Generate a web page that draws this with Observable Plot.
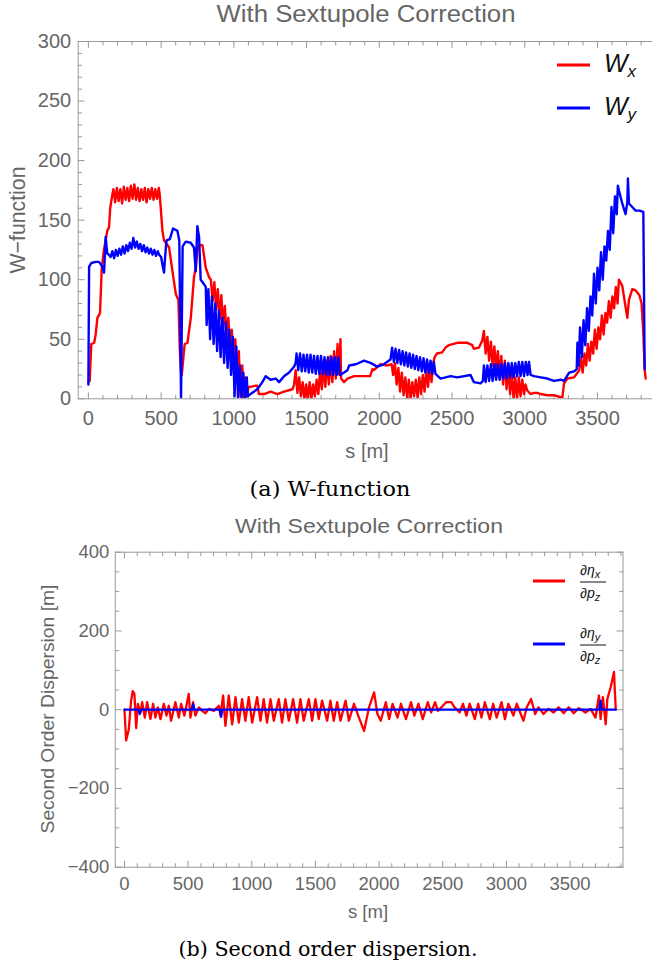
<!DOCTYPE html>
<html><head><meta charset="utf-8">
<script src="https://cdn.jsdelivr.net/npm/d3@7"></script>
<script src="https://cdn.jsdelivr.net/npm/@observablehq/plot@0.6"></script>
<style>
body{margin:0;background:#fff;}
#wrap{position:relative;width:652px;height:971px;overflow:hidden;background:#fff;}
#c1{position:absolute;left:0;top:0;}
#c2{position:absolute;left:0;top:500px;}
#ov{position:absolute;left:0;top:0;}
#ov text{font-family:"Liberation Sans",Arial,sans-serif;}
</style></head><body>
<div id="wrap"><div id="c1"></div><div id="c2"></div>
<svg id="ov" width="652" height="971">
  <text x="366" y="22" text-anchor="middle" fill="#666" font-size="23" textLength="299" lengthAdjust="spacingAndGlyphs">With Sextupole Correction</text>
  <text transform="translate(25,220) rotate(-90)" text-anchor="middle" fill="#666" font-size="22" textLength="107" lengthAdjust="spacingAndGlyphs">W−function</text>
  <text x="367" y="458" text-anchor="middle" fill="#666" font-size="20">s [m]</text>
  <text x="330" y="496" text-anchor="middle" fill="#000" font-size="21" style="font-family:'DejaVu Serif',serif" textLength="161" lengthAdjust="spacingAndGlyphs">(a) W-function</text>
  <line x1="557" x2="590" y1="65" y2="65" stroke="#ff0000" stroke-width="3"/>
  <text x="604" y="72" font-size="25" font-style="italic" fill="#111">W<tspan font-size="17" dy="5">x</tspan></text>
  <line x1="557" x2="590" y1="108" y2="108" stroke="#0000ff" stroke-width="3"/>
  <text x="604" y="115" font-size="25" font-style="italic" fill="#111">W<tspan font-size="17" dy="5">y</tspan></text>

  <text x="369" y="533" text-anchor="middle" fill="#666" font-size="21" textLength="268" lengthAdjust="spacingAndGlyphs">With Sextupole Correction</text>
  <text transform="translate(54,709) rotate(-90)" text-anchor="middle" fill="#666" font-size="19" textLength="249" lengthAdjust="spacingAndGlyphs">Second Order Dispersion [m]</text>
  <text x="368" y="918" text-anchor="middle" fill="#666" font-size="18.5">s [m]</text>
  <text x="328" y="956" text-anchor="middle" fill="#000" font-size="21" style="font-family:'DejaVu Serif',serif" textLength="299" lengthAdjust="spacingAndGlyphs">(b) Second order dispersion.</text>
  <line x1="533" x2="565" y1="581" y2="581" stroke="#ff0000" stroke-width="3"/>
  <text x="580" y="575" font-size="14" fill="#111">∂<tspan font-style="italic">η</tspan><tspan font-size="11" dy="3" font-style="italic">x</tspan></text>
  <line x1="580" x2="606" y1="582" y2="582" stroke="#111" stroke-width="1"/>
  <text x="580" y="598" font-size="14" fill="#111">∂<tspan font-style="italic">p</tspan><tspan font-size="11" dy="3" font-style="italic">z</tspan></text>
  <line x1="533" x2="565" y1="644" y2="644" stroke="#0000ff" stroke-width="3"/>
  <text x="580" y="638" font-size="14" fill="#111">∂<tspan font-style="italic">η</tspan><tspan font-size="11" dy="3" font-style="italic">y</tspan></text>
  <line x1="580" x2="606" y1="645" y2="645" stroke="#111" stroke-width="1"/>
  <text x="580" y="661" font-size="14" fill="#111">∂<tspan font-style="italic">p</tspan><tspan font-size="11" dy="3" font-style="italic">z</tspan></text>
</svg></div>
<script>
// ---------- data: W-function (s [m], W) ----------
const wx = [[0,14],[9,15],[20,46],[40,47],[50,54],[62,68],[80,72],[92,110],[108,126],[130,141],[142,144],[150,160],[160,168],
[172,176],[184,165],[196,177],[208,166],[220,176],[232,164],[244,178],[256,167],[268,177],[280,166],[292,179],[304,168],[316,180],[328,167],[340,177],[352,166],[364,176],[376,167],[388,177],[400,165],[412,176],[424,168],[436,177],[448,167],[460,176],[472,168],[484,177],
[490,172],[497,161],[509,141],[520,133],[532,131],[555,127],[578,107],[601,88],[619,83],[628,43],[636,24],[642,20],[651,32],[662,46],[681,47],[704,68],[726,102],[738,110],[750,125],[761,129],[784,129],[795,120],[807,110],[830,102],
[842,100],[854,82],[866,98],[878,75],[890,92],[902,66],[914,87],[926,60],[938,78],[950,52],[962,68],[974,42],[986,58],[998,30],[1010,50],[1022,15],[1034,40],[1046,2],[1058,28],[1070,1],[1080,18],[1092,2],[1100,10],[1115,10],[1150,11],[1161,11],[1172,4],[1207,4],[1253,6],[1299,4],[1345,6],[1403,8],[1414,12],
[1425,24],[1437,5],[1449,18],[1461,2],[1473,14],[1485,0],[1497,12],[1509,0],[1521,14],[1533,0],[1545,12],[1557,2],[1569,16],[1581,4],[1593,24],[1605,8],[1617,28],[1629,10],[1641,32],[1653,12],[1665,36],[1677,14],[1689,40],[1701,17],[1713,46],[1725,20],[1733,50],[1737,17],[1758,14],[1781,17],[1827,19],[1896,19],[1937,19],[1953,25],[1962,24],[2008,29],[2054,28],[2085,29],
[2095,20],[2107,30],[2119,12],[2131,26],[2143,6],[2155,22],[2167,3],[2179,18],[2191,1],[2203,16],[2215,0],[2227,14],[2239,2],[2251,16],[2263,1],[2275,18],[2287,4],[2299,20],[2311,6],[2323,24],[2335,10],[2347,28],[2359,14],[2371,30],[2380,35],[2397,38],[2432,39],[2455,43],[2478,45],[2536,47],[2605,47],[2639,45],[2650,42],[2685,43],[2708,49],
[2719,57],[2731,38],[2743,52],[2755,32],[2767,48],[2779,28],[2791,44],[2803,24],[2815,40],[2827,18],[2839,36],[2851,12],[2863,32],[2875,8],[2887,28],[2899,4],[2911,22],[2923,0],[2935,18],[2947,0],[2959,18],[2971,2],[2983,16],[2995,4],[3005,12],[3017,7],[3040,4],[3063,5],[3086,5],[3109,4],[3155,3],[3201,3],[3258,1],[3270,13],[3293,17],[3339,18],[3374,24],
[3386,34],[3398,22],[3410,38],[3422,28],[3434,46],[3446,32],[3458,48],[3470,38],[3482,58],[3494,42],[3506,60],[3518,50],[3530,70],[3542,54],[3554,72],[3566,64],[3578,82],[3590,68],[3602,86],[3614,76],[3626,94],[3638,80],[3647,100],[3670,95],[3693,77],[3705,68],[3716,83],[3739,92],[3762,91],[3788,87],[3803,80],[3815,55],[3824,25],[3831,17]];

const wy = [[0,12],[5,111],[20,114],[50,115],[73,115],[96,111],[108,106],[119,136],[125,128],[130,122],[141,121],
[153,119],[165,124],[177,118],[189,125],[201,120],[213,126],[225,121],[237,128],[249,122],[261,129],[273,124],[285,131],[297,126],[309,135],[321,127],[333,132],[345,126],[357,130],[369,124],[381,129],[393,123],[405,127],[417,122],[429,126],[441,121],[453,125],[465,120],[477,124],[486,121],
[500,119],[510,112],[520,106],[528,120],[537,133],[560,134],[582,143],[612,141],[625,133],[637,0],[648,128],[669,132],[703,131],[726,127],[738,107],[749,145],[761,136],[772,100],[784,98],[807,94],
[813,62],[825,92],[837,50],[849,86],[861,46],[873,80],[885,40],[897,74],[909,35],[921,68],[933,30],[945,64],[957,26],[969,58],[981,20],[993,52],[1005,2],[1017,44],[1029,0],[1041,28],[1053,0],[1065,22],[1077,0],[1089,18],[1095,2],[1115,4],[1161,8],[1196,14],[1219,19],[1253,16],[1288,17],[1311,14],[1345,19],[1380,22],[1414,27],[1425,30],
[1431,38],[1443,24],[1455,38],[1467,23],[1479,37],[1491,23],[1503,37],[1515,22],[1527,37],[1539,22],[1551,36],[1563,21],[1575,36],[1587,21],[1599,36],[1611,21],[1623,35],[1635,20],[1647,35],[1659,20],[1671,35],[1683,20],[1695,35],[1707,20],[1719,35],[1731,20],[1758,22],[1781,24],[1793,28],[1839,29],[1896,32],[1942,30],[1985,27],[2031,29],[2077,33],
[2088,43],[2100,31],[2112,42],[2124,30],[2136,41],[2148,29],[2160,40],[2172,28],[2184,39],[2196,27],[2208,38],[2220,26],[2232,37],[2244,25],[2256,36],[2268,24],[2280,35],[2292,23],[2304,34],[2316,22],[2328,33],[2340,22],[2352,32],[2364,21],[2375,31],[2386,21],[2421,17],[2490,19],[2536,18],[2627,20],[2650,14],[2696,13],[2712,15],
[2719,28],[2731,14],[2743,28],[2755,15],[2767,29],[2779,15],[2791,29],[2803,16],[2815,29],[2827,16],[2839,29],[2851,17],[2863,30],[2875,17],[2887,30],[2899,18],[2911,30],[2923,18],[2935,30],[2947,19],[2959,31],[2971,19],[2983,31],[2995,19],[3007,31],[3019,20],[3029,31],[3040,20],[3063,19],[3109,18],[3155,17],[3201,15],[3247,16],[3270,15],[3305,22],[3339,23],[3357,25],[3362,47],[3370,28],
[3380,60],[3392,35],[3404,66],[3416,45],[3428,76],[3440,57],[3452,86],[3464,70],[3476,105],[3488,80],[3500,110],[3512,91],[3524,123],[3536,100],[3548,128],[3560,116],[3572,141],[3584,125],[3596,161],[3608,139],[3620,170],[3632,155],[3640,179],[3647,175],[3670,164],[3693,155],[3705,165],[3709,185],[3716,164],[3739,161],[3762,158],[3788,158],[3815,157],[3824,25]];

// ---------- data: second order dispersion (s [m], value [m]) ----------
const d2x = [[0,0],[13,-78],[34,-50],[52,23],[65,47],[78,40],[92,-47],[105,15],[126,-7],[139,19],[160,-20],[178,19],[204,-24],[225,15],[243,-20],[262,6],[283,-24],[309,15],[330,-15],[348,10],[366,-28],[400,19],[427,-20],[445,15],[471,-15],[505,40],[518,-20],[539,19],[557,-15],[584,6],[610,-3],[636,-9],[662,2],[702,-3],[741,10],[754,-15],
[775,36],[793,-41],[819,36],[846,-37],[872,32],[898,-33],[924,27],[950,-28],[976,32],[1003,-33],[1042,32],[1068,-28],[1094,27],[1120,-33],[1147,27],[1173,-28],[1212,27],[1238,-33],[1264,27],[1291,-28],[1325,27],[1356,-33],[1382,27],[1408,-28],[1448,27],[1474,-28],[1500,27],[1526,-24],[1552,23],[1592,-28],[1618,23],[1644,-28],[1671,19],[1697,-28],[1737,23],[1763,-28],[1803,15],[1842,-20],[1882,-54],[1921,6],[1961,44],[1987,-11],[2013,-28],
[2053,19],[2079,-24],[2106,15],[2145,-20],[2172,15],[2211,-24],[2251,19],[2277,-15],[2309,15],[2343,-24],[2382,19],[2409,-7],[2440,19],[2462,-3],[2501,10],[2527,19],[2567,19],[2593,6],[2633,-7],[2659,15],[2686,-15],[2712,15],[2752,-24],[2778,15],[2804,-20],[2831,19],[2870,-24],[2896,15],[2923,-20],[2962,19],[2989,-24],[3015,15],[3055,-15],[3081,15],[3134,-28],[3160,6],[3194,27],[3226,-11],[3252,6],[3292,-11],[3331,2],[3371,-7],[3410,6],[3450,-9],[3490,6],[3529,-9],[3569,4],[3621,-7],[3661,2],[3700,-20],[3727,36],[3740,-24],[3758,32],[3780,-37],[3793,27],[3819,57],[3845,96],[3859,0]];

const d2y = [[0,0],[110,0],[120,-11],[130,0],[530,0],[539,14],[548,0],[750,0],[759,-18],[768,0],[3730,0],[3740,23],[3750,0],[3859,0]];

// ---------- ticks ----------
const xTicks = [0,500,1000,1500,2000,2500,3000,3500];
const wTicks = [0,50,100,150,200,250,300];
const dTicks = [-400,-200,0,200,400];

const fmt = d => d < 0 ? "\u2212" + (-d) : String(d);
const toObj = a => a.map(([s, v]) => ({s, v}));
const tickShape = {draw(ctx, l){ ctx.moveTo(0,0); ctx.lineTo(0,-l); }};
function frameTicks(vals, axis, side, len){
  const rot = {left:90, right:270, bottom:0, top:180}[side];
  const o = {frameAnchor: side, rotate: rot, length: len, shape: tickShape, anchor: "start", stroke: "#999", strokeWidth: 1};
  if (axis === "x") o.x = d => d; else o.y = d => d;
  return Plot.vector(vals, o);
}
const minors = (lo, hi, step, majors) => d3.range(lo, hi + 1e-9, step).filter(v => !majors.includes(v));

const c1 = Plot.plot({
  width: 652, height: 470,
  marginTop: 41, marginBottom: 71.7, marginLeft: 77.7, marginRight: 0,
  x: {domain: [-70, 3878]},
  y: {domain: [0, 300]},
  style: {fontFamily: "'Liberation Sans', Arial, sans-serif", fontSize: "20px", color: "#666", background: "transparent"},
  marks: [
    frameTicks(xTicks, "x", "bottom", 6), frameTicks(minors(100, 3800, 100, xTicks), "x", "bottom", 3.5),
    frameTicks(xTicks, "x", "top", 6), frameTicks(minors(100, 3800, 100, xTicks), "x", "top", 3.5),
    frameTicks(wTicks, "y", "left", 6), frameTicks(minors(0, 300, 10, wTicks), "y", "left", 3.5),
    Plot.line(toObj(wx), {x: "s", y: "v", stroke: "#ff0000", strokeWidth: 2.4, clip: true}),
    Plot.line(toObj(wy), {x: "s", y: "v", stroke: "#0000ff", strokeWidth: 2.4, clip: true}),
    Plot.frame({stroke: "#999", strokeWidth: 1}),
    Plot.axisX({ticks: xTicks, tickFormat: fmt, tickSize: 0, tickPadding: 12, label: null, fontSize: 20}),
    Plot.axisY({ticks: wTicks, tickFormat: fmt, tickSize: 0, tickPadding: 7, label: null, fontSize: 20})
  ]
});
document.getElementById("c1").appendChild(c1);

const c2 = Plot.plot({
  width: 652, height: 420,
  marginTop: 51.7, marginBottom: 53.3, marginLeft: 114.8, marginRight: 29.5,
  x: {domain: [-72, 3916]},
  y: {domain: [-400, 400]},
  style: {fontFamily: "'Liberation Sans', Arial, sans-serif", fontSize: "18.5px", color: "#666", background: "transparent"},
  marks: [
    frameTicks(xTicks, "x", "bottom", 6), frameTicks(minors(100, 3900, 100, xTicks), "x", "bottom", 3.5),
    frameTicks(xTicks, "x", "top", 6), frameTicks(minors(100, 3900, 100, xTicks), "x", "top", 3.5),
    frameTicks(dTicks, "y", "left", 6), frameTicks(minors(-400, 400, 50, dTicks), "y", "left", 3.5),
    frameTicks(dTicks, "y", "right", 6), frameTicks(minors(-400, 400, 50, dTicks), "y", "right", 3.5),
    Plot.line(toObj(d2x), {x: "s", y: "v", stroke: "#ff0000", strokeWidth: 2.3, clip: true}),
    Plot.line(toObj(d2y), {x: "s", y: "v", stroke: "#0000ff", strokeWidth: 2.3, clip: true}),
    Plot.frame({stroke: "#999", strokeWidth: 1}),
    Plot.axisX({ticks: xTicks, tickFormat: fmt, tickSize: 0, tickPadding: 10, label: null, fontSize: 18.5}),
    Plot.axisY({ticks: dTicks, tickFormat: fmt, tickSize: 0, tickPadding: 6, label: null, fontSize: 18.5})
  ]
});
document.getElementById("c2").appendChild(c2);
</script></body></html>
